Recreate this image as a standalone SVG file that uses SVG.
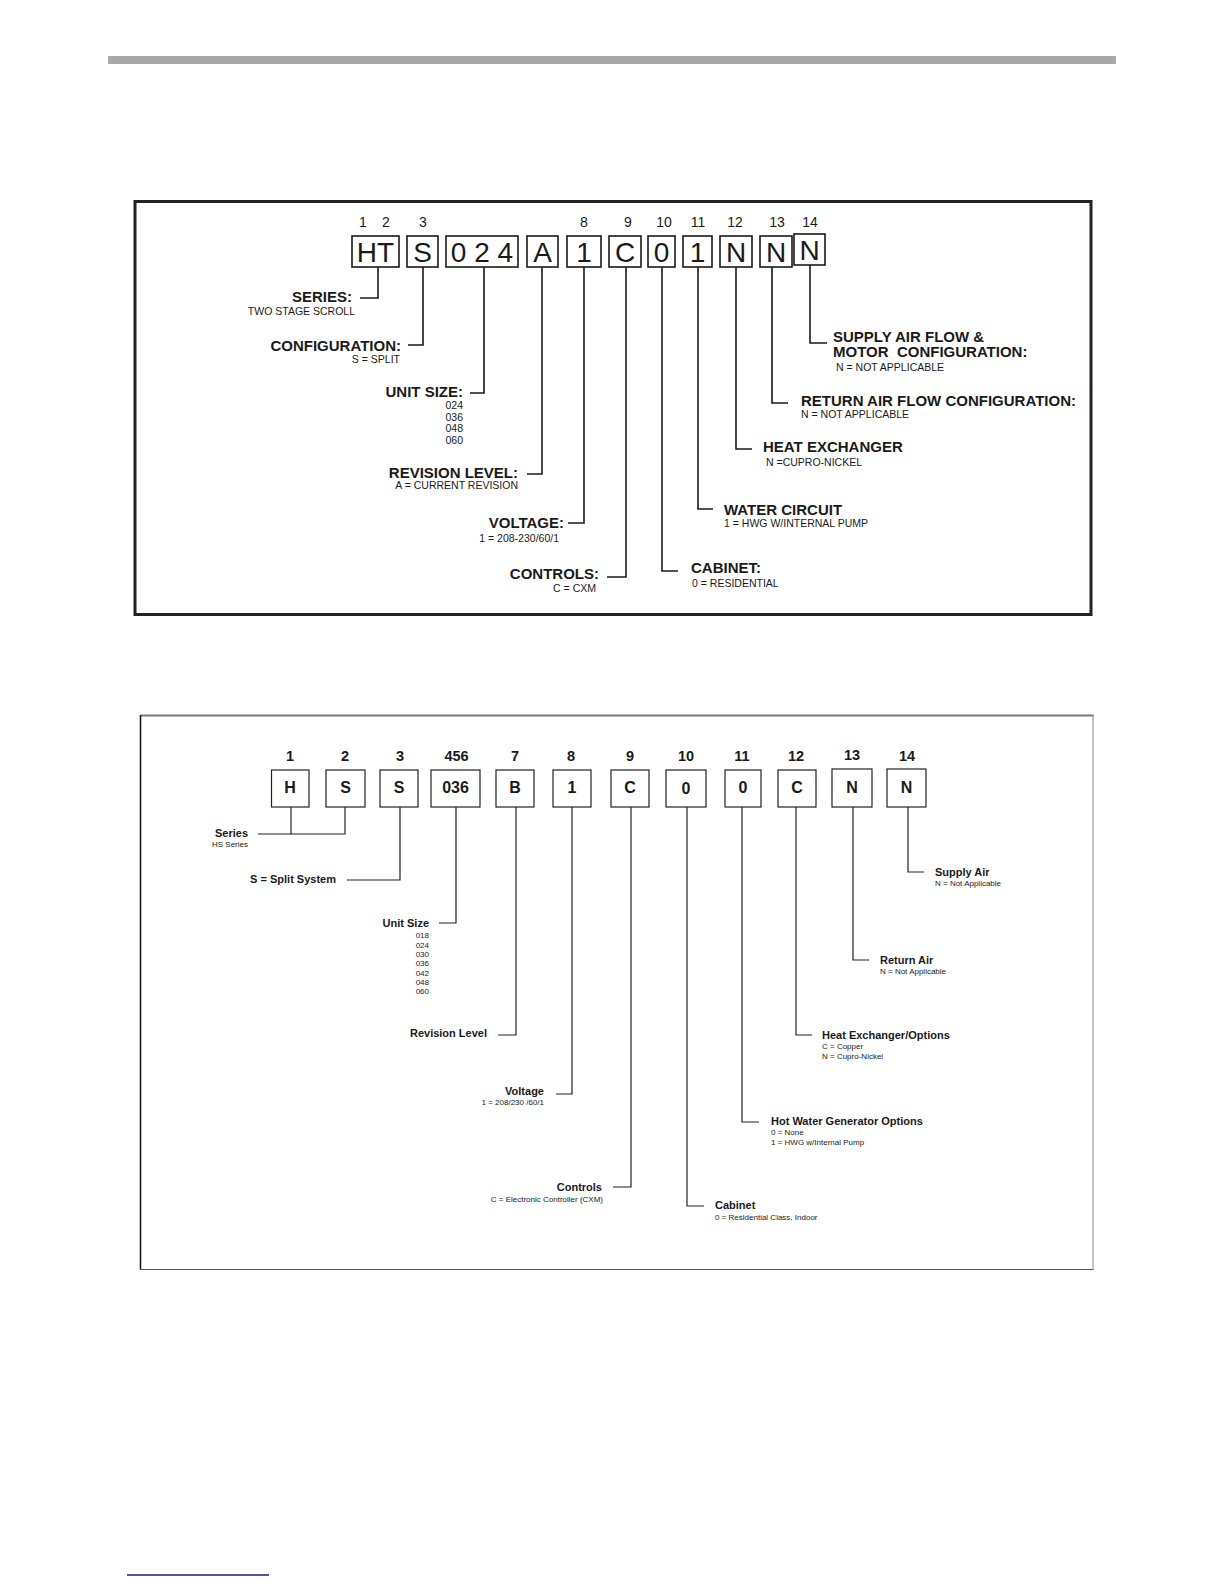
<svg xmlns="http://www.w3.org/2000/svg" width="1224" height="1584" viewBox="0 0 1224 1584">
<style>
text{font-family:"Liberation Sans",Arial,sans-serif;fill:#1a1a1a}
.tn{font-size:14px}
.tc{font-size:28px;text-anchor:middle}
.tb{font-size:15px;font-weight:bold}
.ts{font-size:10.5px}
.bn{font-size:14.5px;font-weight:bold;text-anchor:middle}
.bc{font-size:16px;font-weight:bold;text-anchor:middle}
.bb{font-size:11px;font-weight:bold}
.bs{font-size:8px}
.e{text-anchor:end}
.m{text-anchor:middle}
.tbox{fill:#fff;stroke:#1a1a1a;stroke-width:1.6}
.bbox{fill:#fff;stroke:#222;stroke-width:1.2}
.tl{fill:none;stroke:#1a1a1a;stroke-width:1.6}
.bl{fill:none;stroke:#222;stroke-width:1.2}
</style>
<rect x="108" y="56" width="1008" height="8" fill="#a8a8a8"/>
<line x1="127" y1="1575" x2="269" y2="1575" stroke="#1a1a8c" stroke-width="1.5"/>

<!-- TOP DIAGRAM -->
<rect id="top-frame" x="135" y="201.5" width="956" height="413" fill="none" stroke="#222" stroke-width="3"/>
<g id="top-numbers" class="tn">
<text x="363" y="227" class="m">1</text><text x="386" y="227" class="m">2</text><text x="423" y="227" class="m">3</text>
<text x="584" y="227" class="m">8</text><text x="628" y="227" class="m">9</text><text x="664" y="227" class="m">10</text>
<text x="698" y="227" class="m">11</text><text x="735" y="227" class="m">12</text><text x="777" y="227" class="m">13</text>
<text x="810" y="227" class="m">14</text>
</g>
<g id="top-code-HT"><rect class="tbox" x="352" y="236" width="47" height="31"/><text class="tc" x="375.5" y="262">HT</text></g>
<g id="top-code-S"><rect class="tbox" x="407" y="236" width="31" height="31"/><text class="tc" x="422.5" y="262">S</text></g>
<g id="top-code-024"><rect class="tbox" x="446" y="236" width="72" height="31"/><text class="tc" x="482" y="262">0 2 4</text></g>
<g id="top-code-A"><rect class="tbox" x="527" y="236" width="31" height="31"/><text class="tc" x="542.5" y="262">A</text></g>
<g id="top-code-1a"><rect class="tbox" x="567" y="236" width="34" height="31"/><text class="tc" x="584" y="262">1</text></g>
<g id="top-code-C"><rect class="tbox" x="609" y="236" width="32" height="31"/><text class="tc" x="625" y="262">C</text></g>
<g id="top-code-0"><rect class="tbox" x="648" y="236" width="27" height="31"/><text class="tc" x="661.5" y="262">0</text></g>
<g id="top-code-1b"><rect class="tbox" x="683" y="236" width="29" height="31"/><text class="tc" x="697.5" y="262">1</text></g>
<g id="top-code-N12"><rect class="tbox" x="720" y="236" width="32" height="31"/><text class="tc" x="736" y="262">N</text></g>
<g id="top-code-N13"><rect class="tbox" x="760" y="236" width="32" height="31"/><text class="tc" x="776" y="262">N</text></g>
<g id="top-code-N14"><rect class="tbox" x="794" y="234" width="31" height="31"/><text class="tc" x="809.5" y="260">N</text></g>

<g id="top-connectors" class="tl">
<path d="M378 267V298H360"/>
<path d="M423 267V345H408"/>
<path d="M484 267V393H470"/>
<path d="M542 267V474H527"/>
<path d="M584 267V523H568"/>
<path d="M626 267V577H607"/>
<path d="M662 267V571H678"/>
<path d="M698 267V509H713"/>
<path d="M736 267V449H752"/>
<path d="M772 267V403H788"/>
<path d="M810 265V343H827"/>
</g>

<g id="top-label-series"><text class="tb e" x="352" y="302">SERIES:</text><text class="ts e" x="355" y="315">TWO STAGE SCROLL</text></g>
<g id="top-label-config"><text class="tb e" x="401" y="351">CONFIGURATION:</text><text class="ts e" x="400" y="363">S = SPLIT</text></g>
<g id="top-label-unitsize"><text class="tb e" x="463" y="397">UNIT SIZE:</text>
<text class="ts e" x="463" y="409">024</text><text class="ts e" x="463" y="421">036</text><text class="ts e" x="463" y="432">048</text><text class="ts e" x="463" y="444">060</text></g>
<g id="top-label-revision"><text class="tb e" x="518" y="478">REVISION LEVEL:</text><text class="ts e" x="518" y="489">A = CURRENT REVISION</text></g>
<g id="top-label-voltage"><text class="tb e" x="564" y="528">VOLTAGE:</text><text class="ts e" x="559" y="542">1 = 208-230/60/1</text></g>
<g id="top-label-controls"><text class="tb e" x="599" y="579">CONTROLS:</text><text class="ts e" x="596" y="592">C = CXM</text></g>
<g id="top-label-cabinet"><text class="tb" x="691" y="573">CABINET:</text><text class="ts" x="692" y="587">0 = RESIDENTIAL</text></g>
<g id="top-label-water"><text class="tb" x="724" y="515">WATER CIRCUIT</text><text class="ts" x="724" y="527">1 = HWG W/INTERNAL PUMP</text></g>
<g id="top-label-heatex"><text class="tb" x="763" y="452">HEAT EXCHANGER</text><text class="ts" x="766" y="466">N =CUPRO-NICKEL</text></g>
<g id="top-label-return"><text class="tb" x="801" y="406">RETURN AIR FLOW CONFIGURATION:</text><text class="ts" x="801" y="418">N = NOT APPLICABLE</text></g>
<g id="top-label-supply"><text class="tb" x="833" y="342">SUPPLY AIR FLOW &amp;</text><text class="tb" x="833" y="357" xml:space="preserve">MOTOR  CONFIGURATION:</text><text class="ts" x="836" y="371">N = NOT APPLICABLE</text></g>

<!-- BOTTOM DIAGRAM -->
<g id="bottom-frame">
<line x1="140.5" y1="715.5" x2="1093.5" y2="715.5" stroke="#7a7a7a" stroke-width="2"/>
<line x1="140.5" y1="715" x2="140.5" y2="1270" stroke="#111" stroke-width="1.5"/>
<line x1="140" y1="1269.5" x2="1093.5" y2="1269.5" stroke="#555" stroke-width="1.2"/>
<line x1="1093" y1="715" x2="1093" y2="1270" stroke="#888" stroke-width="1"/>
</g>
<g id="bottom-numbers" class="bn">
<text x="290" y="761">1</text><text x="345" y="761">2</text><text x="400" y="761">3</text><text x="456.5" y="761">456</text>
<text x="515" y="761">7</text><text x="571" y="761">8</text><text x="630" y="761">9</text><text x="686" y="761">10</text>
<text x="742" y="761">11</text><text x="796" y="761">12</text><text x="852" y="760">13</text><text x="907" y="761">14</text>
</g>
<g id="bot-code-H"><rect class="bbox" x="271.5" y="770" width="37.5" height="37"/><text class="bc" x="290" y="793">H</text></g>
<g id="bot-code-S2"><rect class="bbox" x="326" y="770" width="39" height="37"/><text class="bc" x="345.5" y="793">S</text></g>
<g id="bot-code-S3"><rect class="bbox" x="380" y="770" width="38" height="37"/><text class="bc" x="399" y="793">S</text></g>
<g id="bot-code-036"><rect class="bbox" x="431" y="770" width="49" height="37"/><text class="bc" x="455.5" y="793">036</text></g>
<g id="bot-code-B"><rect class="bbox" x="496" y="770" width="38" height="37"/><text class="bc" x="515" y="793">B</text></g>
<g id="bot-code-1"><rect class="bbox" x="553" y="770" width="38" height="37"/><text class="bc" x="572" y="793">1</text></g>
<g id="bot-code-C9"><rect class="bbox" x="611" y="770" width="38" height="37"/><text class="bc" x="630" y="793">C</text></g>
<g id="bot-code-0a"><rect class="bbox" x="666" y="770" width="40" height="37"/><text class="bc" x="686" y="794">0</text></g>
<g id="bot-code-0b"><rect class="bbox" x="725" y="770" width="36" height="37"/><text class="bc" x="743" y="793">0</text></g>
<g id="bot-code-C12"><rect class="bbox" x="778" y="770" width="38" height="37"/><text class="bc" x="797" y="793">C</text></g>
<g id="bot-code-N13"><rect class="bbox" x="832" y="769" width="40" height="38"/><text class="bc" x="852" y="793">N</text></g>
<g id="bot-code-N14"><rect class="bbox" x="887" y="769" width="39" height="38"/><text class="bc" x="906.5" y="793">N</text></g>

<g id="bottom-connectors" class="bl">
<path d="M291 807V834"/>
<path d="M345 807V834H258"/>
<path d="M400 807V880H347"/>
<path d="M456 807V923H439"/>
<path d="M516 807V1035H498"/>
<path d="M572 807V1094H556"/>
<path d="M631 807V1187H613"/>
<path d="M687 807V1206H704"/>
<path d="M742 807V1122H759"/>
<path d="M796 807V1035H812"/>
<path d="M853 807V960H869"/>
<path d="M908 807V872H924"/>
</g>

<g id="bot-label-series"><text class="bb e" x="248" y="837">Series</text><text class="bs e" x="248" y="847">HS Series</text></g>
<g id="bot-label-split"><text class="bb e" x="336" y="883">S = Split System</text></g>
<g id="bot-label-unitsize"><text class="bb e" x="429" y="927">Unit Size</text>
<text class="bs e" x="429" y="938">018</text><text class="bs e" x="429" y="947.5">024</text><text class="bs e" x="429" y="957">030</text><text class="bs e" x="429" y="966">036</text><text class="bs e" x="429" y="976">042</text><text class="bs e" x="429" y="985">048</text><text class="bs e" x="429" y="994">060</text></g>
<g id="bot-label-revision"><text class="bb e" x="487" y="1037">Revision Level</text></g>
<g id="bot-label-voltage"><text class="bb e" x="544" y="1095">Voltage</text><text class="bs e" x="544" y="1105">1 = 208/230 /60/1</text></g>
<g id="bot-label-controls"><text class="bb e" x="602" y="1191">Controls</text><text class="bs e" x="603" y="1202">C = Electronic Controller (CXM)</text></g>
<g id="bot-label-cabinet"><text class="bb" x="715" y="1209">Cabinet</text><text class="bs" x="715" y="1220">0 = Residential Class, Indoor</text></g>
<g id="bot-label-hwg"><text class="bb" x="771" y="1125">Hot Water Generator Options</text><text class="bs" x="771" y="1135">0 = None</text><text class="bs" x="771" y="1145">1 = HWG w/Internal Pump</text></g>
<g id="bot-label-heatex"><text class="bb" x="822" y="1039">Heat Exchanger/Options</text><text class="bs" x="822" y="1049">C = Copper</text><text class="bs" x="822" y="1059">N = Cupro-Nickel</text></g>
<g id="bot-label-return"><text class="bb" x="880" y="964">Return Air</text><text class="bs" x="880" y="974">N = Not Applicable</text></g>
<g id="bot-label-supply"><text class="bb" x="935" y="876">Supply Air</text><text class="bs" x="935" y="886">N = Not Applicable</text></g>
</svg>
